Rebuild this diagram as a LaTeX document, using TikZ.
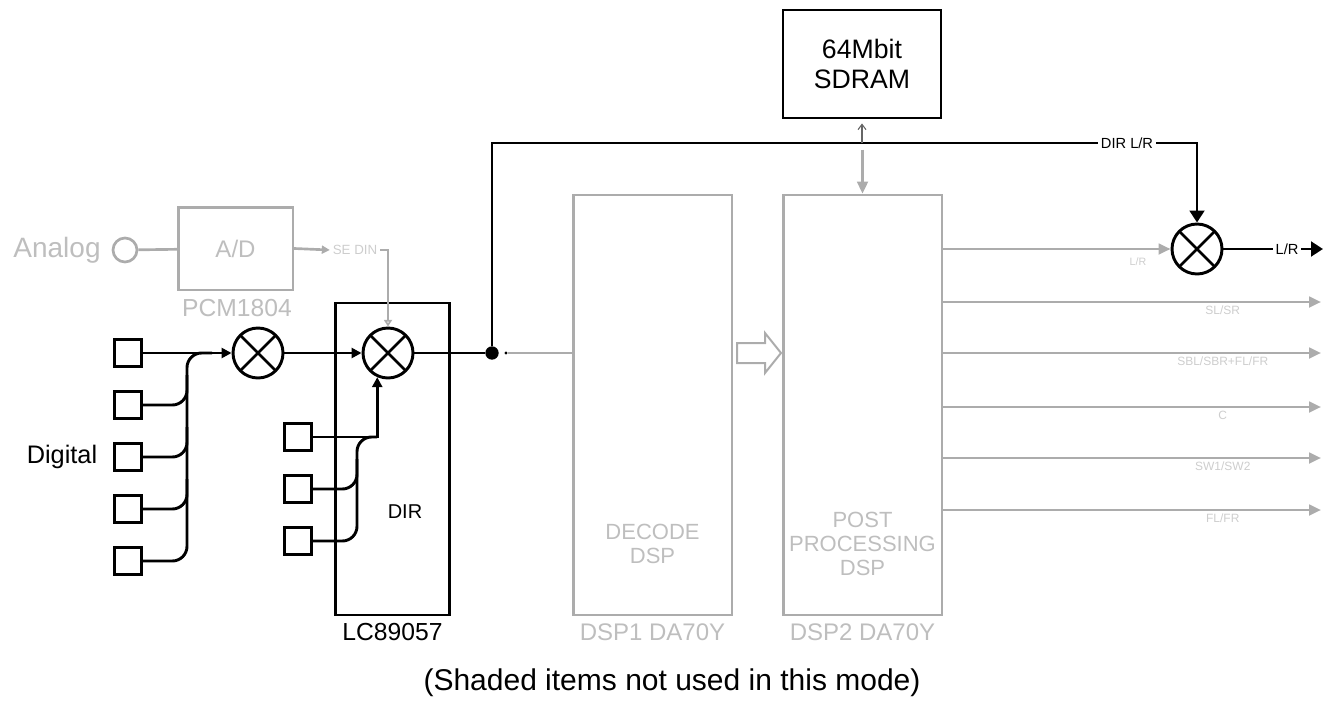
\documentclass[tikz,border=0pt]{standalone}
\usepackage{fontspec}
\setmainfont{Liberation Sans}
\usetikzlibrary{arrows.meta,calc}
\definecolor{unused}{RGB}{172,172,172}
\definecolor{unusedtxt}{RGB}{190,190,190}
\definecolor{unusedfaint}{RGB}{205,205,205}
\tikzset{
  wire/.style={line width=2.2pt, black},
  gwire/.style={line width=2pt, draw=unused},
  tip/.style={-{Triangle[length=7.5pt,width=7.5pt]}},
  bigtip/.style={-{Triangle[length=9pt,width=11pt]}},
  gtip/.style={-{Triangle[length=9pt,width=8pt]}},
  jack/.style={draw, line width=2.2pt, minimum size=20pt, inner sep=0pt},
  mixer/.style={circle, draw, line width=2.2pt, minimum size=37.5pt, inner sep=0pt, fill=white,
    path picture={\draw[line width=2pt] (path picture bounding box.north west) -- (path picture bounding box.south east)
      (path picture bounding box.north east) -- (path picture bounding box.south west);}},
  chip/.style={draw, line width=2.2pt, inner sep=0pt, align=center},
  gchip/.style={draw=unused, line width=2pt, inner sep=0pt, align=center},
  txt/.style={font=\fontsize{19}{23}\selectfont, inner sep=1pt, align=center},
  gtxt/.style={inner sep=1pt, align=center, text=unusedtxt, font=\fontsize{16.5}{18}\selectfont},
  tag/.style={font=\fontsize{11}{12}\selectfont, inner sep=2pt},
  gtag/.style={font=\fontsize{9}{10}\selectfont, text=unusedfaint, inner sep=2pt},
}
\begin{document}
\begin{tikzpicture}[x=0.75pt, y=-0.75pt]
  \useasboundingbox (0,0) rectangle (1323,706);
  % memory and the two DSPs
  \node[chip, minimum width=118.5pt, minimum height=81pt, font=\fontsize{20}{22.5}\selectfont] (sdram) at (862,64) {64Mbit\\SDRAM};
  \node[gchip, minimum width=119pt, minimum height=315pt] (dsp1) at (652.5,405) {};
  \node[gchip, minimum width=119pt, minimum height=315pt] (dsp2) at (862.5,405) {};
  \node[gtxt] at ($(dsp1.south)+(0,-72)$) {DECODE\\DSP};
  \node[gtxt] at ($(dsp2.south)+(0,-72)$) {POST\\PROCESSING\\DSP};
  \node[gtxt, font=\fontsize{18}{20}\selectfont] at (652.5,632) {DSP1 DA70Y};
  \node[gtxt, font=\fontsize{18}{20}\selectfont] at (862.5,632) {DSP2 DA70Y};
  % analog input
  \node[gtxt, font=\fontsize{21}{24}\selectfont] (ana) at (57,250) {Analog};
  \node[circle, draw=unused, line width=2pt, minimum size=18pt, inner sep=0pt] (ain) at (125,250) {};
  \node[gchip, minimum width=86pt, minimum height=62pt, text=unusedtxt, font=\fontsize{18}{20}\selectfont] (ad) at (235.5,248.5) {A/D};
  \node[gtxt, font=\fontsize{18.5}{20}\selectfont] (pcm) at (237,308) {PCM1804};
  \node[gtag, font=\fontsize{10}{11}\selectfont] (sedin) at (355,250) {SE DIN};
  % digital inputs
  \node[txt] (dig) at (62,457) {Digital};
  \foreach \i/\y in {1/353,2/405,3/457,4/509,5/561}
    \node[jack] (d\i) at (128,\y) {};
  \foreach \i/\y in {1/437,2/489,3/541}
    \node[jack] (r\i) at (298,\y) {};
  \node[mixer] (m1) at (258,353) {};
  \node[chip, minimum width=86pt, minimum height=234pt] (dir) at (392.5,459) {};
  \node[txt, font=\fontsize{15}{18}\selectfont] at (405,512) {DIR};
  \node[txt, font=\fontsize{18.5}{20}\selectfont] at (392.5,632) {LC89057};
  \node[mixer] (m2) at (388,353) {};
  \node[mixer] (m3) at (1197,249) {};
  \node[circle, fill, inner sep=0pt, minimum size=10pt] (jn) at (492,353) {};
  \node[circle, fill, inner sep=0pt, minimum size=2.5pt] (jd) at (506,353) {};
  \node[tag] (dirlr) at (1127,143) {DIR L/R};
  \node[tag] (lrout) at (1287,249) {L/R};
  \coordinate (lrend) at (1323,249);
  \coordinate (busA) at (187,353);
  \coordinate (busB) at (357,437);
  % black signal path
  \draw[wire, tip] (d1) -- (m1);
  \draw[wire, rounded corners=11pt] (d5.east) -| (busA) -- ++(25,0);
  \foreach \i in {2,3,4}
    \draw[wire, rounded corners=11pt] (d\i.east) -| ($(d\i.east -| busA)+(0,-30)$);
  \draw[wire, tip] (m1) -- (m2);
  \draw[wire, tip] (r1.east) -| (m2.-114);
  \draw[wire, rounded corners=11pt] (r3.east) -| (busB) -- ++(20,0);
  \draw[wire, rounded corners=11pt] (r2.east) -| ($(r2.east -| busB)+(0,-30)$);
  \draw[wire] (m2) -- (jn);
  \draw[wire] (jn) |- (dirlr.west);
  \draw[wire, bigtip] (dirlr.east) -| (m3.north);
  \draw[wire] (m3) -- (lrout);
  \draw[wire, bigtip] (lrout.east) -- (lrend);
  % shaded paths
  \draw[gwire] (jd) -- (jd -| dsp1.west);
  \draw[gwire] (ain) -- (ad);
  \draw[gwire, -{Triangle[length=6pt,width=6pt]}] (ad.east) -- (sedin.west);
  \draw[gwire, -{Triangle[open,length=5pt,width=6pt]}] (sedin.east) -| (m2.north);
  \draw[gwire, gtip] (dsp2.east |- m3) -- (m3);
  \node[gtag, font=\fontsize{8}{9}\selectfont] at (1138,262) {L/R};
  \foreach \y/\t in {302/{SL/SR},353/{SBL/SBR+FL/FR},407/C,458/{SW1/SW2},510/{FL/FR}} {
    \coordinate (o) at (1321,\y);
    \draw[gwire, gtip] (dsp2.east |- o) -- (o) node[gtag, pos=0.74, below] {\t};
  }
  \draw[draw=unused, line width=1.5pt] (737,343) -- (765,343) -- (765,333) -- (781,353) -- (765,373) -- (765,363) -- (737,363) -- cycle;
  \draw[gwire, gtip] ($(dsp2.north)+(0,-44)$) -- (dsp2.north);
  \draw[line width=0.8pt, black!60, -{Straight Barb[length=4pt,width=6pt]}] ($(sdram.south)+(0,24)$) -- ($(sdram.south)+(0,4)$);
  \node[txt, font=\fontsize{22.5}{26}\selectfont] (note) at (672,683) {(Shaded items not used in this mode)};
\end{tikzpicture}
\end{document}
